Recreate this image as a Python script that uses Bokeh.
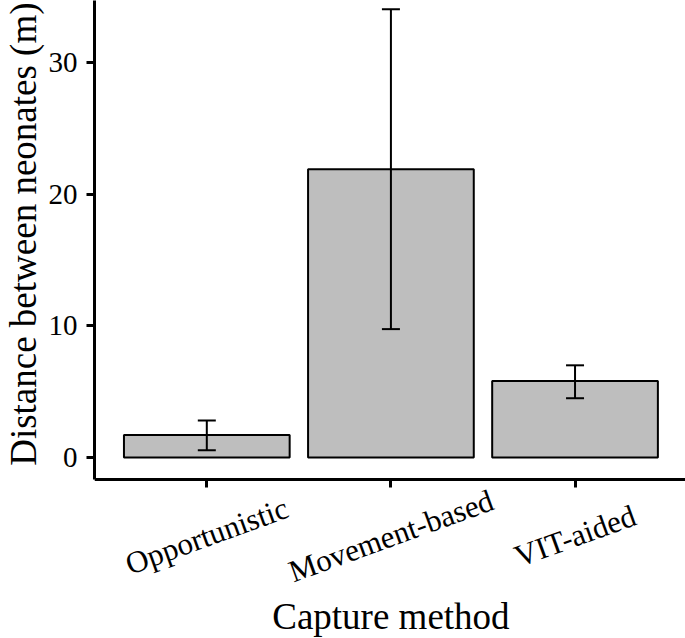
import math
from bokeh.plotting import figure
from bokeh.models import ColumnDataSource, Whisker, TeeHead, FixedTicker, Range1d, Title
from bokeh.core.properties import value
from bokeh.embed import file_html
from bokeh.resources import INLINE

# ---- data ----
categories = ["Opportunistic", "Movement-based", "VIT-aided"]
means = [1.7, 21.9, 5.8]
err_lower = [0.55, 9.75, 4.5]
err_upper = [2.8, 34.05, 7.0]
y_ticks = [0, 10, 20, 30]
x_title = "Capture method"
y_title = "Distance between neonates (m)"

xs = [i + 1 for i in range(len(categories))]
Y0, Y1 = -1.7, 34.71          # extent of the y axis line (panel of the reference)
YLOW = -13.75                  # frame continues below the x axis to hold the labels
src = ColumnDataSource(dict(x=xs, top=means, lower=err_lower, upper=err_upper,
                            cat=categories, ybase=[Y0] * len(xs)))

FONT = "Liberation Serif"

p = figure(width=685, height=638, output_backend="svg", toolbar_location=None,
           x_range=Range1d(0.39, 3.6), y_range=Range1d(YLOW, Y1),
           min_border_left=94, min_border_right=0, min_border_top=0, min_border_bottom=0)

p.vbar(x="x", top="top", width=0.9, source=src, fill_color="#BEBEBE",
       line_color="black", line_width=2)

w = Whisker(source=src, base="x", upper="upper", lower="lower",
            line_width=2, line_color="black", level="overlay",
            upper_head=TeeHead(size=18, line_width=2, line_color="black"),
            lower_head=TeeHead(size=18, line_width=2, line_color="black"))
p.add_layout(w)

# category labels, centred under the ticks and rotated 20 degrees
p.text(x="x", y="ybase", text="cat", source=src, y_offset=56,
       angle=math.radians(20), text_align="center", text_baseline="middle",
       text_font=value(FONT), text_font_size=value("31px"), text_color="black")

# x axis title
p.text(x=[sum(xs) / len(xs)], y=[Y0], text=[x_title], y_offset=137,
       text_align="center", text_baseline="alphabetic",
       text_font=value(FONT), text_font_size=value("37px"), text_color="black")

# y axis title
p.add_layout(Title(text=y_title, align="right", vertical_align="top", offset=2, standoff=0,
                   text_font=FONT, text_font_size="37px", text_font_style="normal",
                   text_color="black"), "left")

p.xgrid.visible = False
p.ygrid.visible = False
p.outline_line_color = None
p.background_fill_color = "white"
p.border_fill_color = "white"

for ax in (p.xaxis[0], p.yaxis[0]):
    ax.axis_line_width = 3
    ax.axis_line_color = "black"
    ax.major_tick_line_width = 3
    ax.major_tick_line_color = "black"
    ax.minor_tick_line_color = None
    ax.major_label_text_font = FONT
    ax.major_label_text_color = "black"

# x axis drawn at the bottom of the data panel
p.xaxis.ticker = FixedTicker(ticks=xs)
p.xaxis.fixed_location = Y0
p.xaxis.major_tick_in = -8
p.xaxis.major_tick_out = 0
p.xaxis.major_label_text_font_size = "0px"
p.xaxis.major_label_text_color = None
p.xaxis.major_label_standoff = 0

p.yaxis.ticker = FixedTicker(ticks=y_ticks)
p.yaxis.bounds = (Y0, Y1)
p.yaxis.major_tick_in = 0
p.yaxis.major_tick_out = 8
p.yaxis.major_label_text_font_size = "29px"
p.yaxis.major_label_standoff = 9

open("out.html", "w").write(file_html(p, INLINE))
